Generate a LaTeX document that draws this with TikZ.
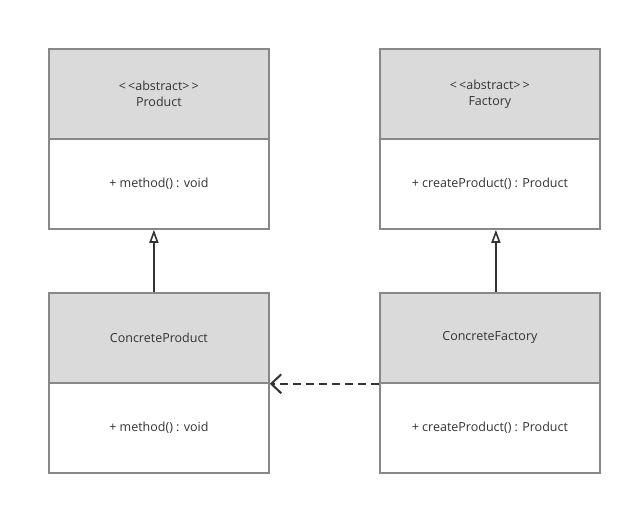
\documentclass[tikz,border=0pt]{standalone}
\usepackage{fontspec}
\setmainfont{Open Sans}
\usetikzlibrary{arrows.meta}
\definecolor{hdr}{HTML}{DADADA}
\definecolor{bord}{HTML}{888888}
\definecolor{ink}{HTML}{333333}
\newcommand{\stereo}[1]{{<}\,{<}#1{>}\,{>}}
\begin{document}
\begin{tikzpicture}[x=1pt,y=-1pt,
  hdrbox/.style={fill=hdr,draw=bord,line width=1.8pt,minimum width=220pt,minimum height=90pt,inner sep=0pt,anchor=north west,text=ink,font=\fontsize{12.5}{16}\selectfont,align=center},
  bodybox/.style={fill=white,draw=bord,line width=1.8pt,minimum width=220pt,minimum height=90pt,inner sep=0pt,anchor=north west,text=ink,font=\fontsize{12.5}{16}\selectfont,align=center},
  inherit/.style={draw=ink,line width=2pt,-{Triangle[open,width=9pt,length=13pt,line width=1.6pt]}},
  depend/.style={draw=ink,line width=2pt,dash pattern=on 8pt off 5pt,-{Straight Barb[length=10pt,width=19pt,line width=2pt]}}]
\useasboundingbox (0,0) rectangle (631,504);
\fill[white] (0,0) rectangle (631,504);
% Product
\node[bodybox] (pb) at (48,138) {+ method() : void};
\node[hdrbox] (ph) at (48,48) {\stereo{abstract}\\Product};
% Factory
\node[bodybox] (fb) at (379,138) {+ createProduct() : Product};
\node[hdrbox] (fh) at (379,48) {\stereo{abstract}\\Factory};
% ConcreteProduct
\node[bodybox] (cpb) at (48,382) {+ method() : void};
\node[hdrbox] (cph) at (48,292) {ConcreteProduct};
% ConcreteFactory
\node[bodybox] (cfb) at (379,382) {+ createProduct() : Product};
\node[hdrbox] (cfh) at (379,292) {ConcreteFactory};
% connectors
\draw[inherit] ([xshift=-5pt]cph.north) -- ([xshift=-5pt]pb.south);
\draw[inherit] ([xshift=6pt]cfh.north) -- ([xshift=6pt]fb.south);
\draw[depend] (cfh.south west) -- (cph.south east);
\end{tikzpicture}
\end{document}
